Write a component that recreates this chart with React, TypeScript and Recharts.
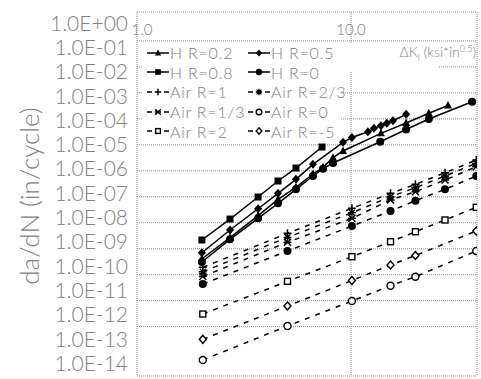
import React from 'react';
import { LineChart, Line, XAxis, YAxis, CartesianGrid, Legend } from 'recharts';

// Hydrogen (solid lines): ΔK values and da/dN
const hDkR02 = [2.01, 2.72, 3.68, 4.56, 5.53, 6.64, 7.4, 8.24, 9.18, 13.8, 18.1, 23.1, 28.4];
const hRateR02 = [4.02e-10, 2.66e-9, 1.87e-8, 8.0e-8, 2.32e-7, 7.53e-7, 1.36e-6, 3.2e-6, 5.79e-6, 2.78e-5, 6.93e-5, 1.64e-4, 3.27e-4];

const hDkR05 = [2.01, 2.72, 3.68, 4.56, 5.53, 6.64, 9.18, 10.1, 12.0, 12.8, 13.8, 14.7, 15.7, 18.1];
const hRateR05 = [7.02e-10, 5.26e-9, 3.47e-8, 1.36e-7, 4.71e-7, 1.78e-6, 1.25e-5, 1.92e-5, 3.2e-5, 4.33e-5, 5.46e-5, 6.75e-5, 8.5e-5, 1.5e-4];

const hDkR08 = [2.01, 2.72, 3.68, 4.56, 5.53, 7.32];
const hRateR08 = [2.17e-9, 1.39e-8, 9.8e-8, 4.05e-7, 1.28e-6, 8.25e-6];

const hDkR0 = [2.01, 2.72, 3.68, 4.56, 5.53, 6.64, 7.4, 8.24, 13.7, 18.1, 23.1, 36.8];
const hRateR0 = [3.08e-10, 2.3e-9, 1.48e-8, 5.61e-8, 1.94e-7, 6.31e-7, 1.21e-6, 2.0e-6, 1.32e-5, 3.9e-5, 9.88e-5, 4.58e-4];

// Air (dashed lines)
const airDk = [2.03, 5.05, 10.1, 15.3, 20.0, 27.5, 38.5];
const airDkShort = [2.03, 5.05, 10.1, 15.3, 20.0, 38.5];
const airRateR1 = [1.92e-10, 3.92e-9, 3.6e-8, 1.36e-7, 3.02e-7, 8.45e-7, 2.61e-6];
const airRateR23 = [1.3e-10, 2.75e-9, 2.44e-8, 1.01e-7, 2.24e-7, 6.31e-7, 1.95e-6];
const airRateR13 = [8.5e-11, 1.77e-9, 1.48e-8, 7.51e-8, 1.57e-7, 4.43e-7, 1.44e-6];
const airRateFilled = [4.38e-11, 8.17e-10, 7.49e-9, 2.83e-8, 7.06e-8, 1.94e-7, 6.31e-7];
const airRateR2 = [3.06e-12, 5.56e-11, 4.93e-10, 1.86e-9, 4.52e-9, 1.28e-8, 3.93e-8];
const airRateRm5 = [3.25e-13, 6.23e-12, 5.97e-11, 2.36e-10, 5.48e-10, 4.81e-9];
const airRateR0 = [5.19e-14, 1.06e-12, 9.7e-12, 3.77e-11, 8.37e-11, 8.17e-10];

const xTicks = [1, 10, 38.8];
const gridTicksY = [1.303, 1e-1, 1e-2, 1e-3, 1e-4, 1e-5, 1e-6, 1e-7, 1e-8, 1e-9, 1e-10, 1e-11, 1e-12, 1e-13, 1.259e-14];
const labelTicksY = [1, 1e-1, 1e-2, 1e-3, 1e-4, 1e-5, 1e-6, 1e-7, 1e-8, 1e-9, 1e-10, 1e-11, 1e-12, 1e-13, 1e-14];

const zip = (xs: number[], ys: number[]) => xs.map((x, i) => ({ x, y: ys[i] }));

type Kind = 'triangle' | 'diamond' | 'square' | 'circle' | 'plus' | 'asterisk' | 'xstar' | 'ocircle' | 'osquare' | 'odiamond';

const series: { id: string; name: string; data: { x: number; y: number }[]; kind: Kind; dashed: boolean; legend: boolean }[] = [
  { id: 'h02', name: 'H R=0.2', data: zip(hDkR02, hRateR02), kind: 'triangle', dashed: false, legend: true },
  { id: 'h05', name: 'H R=0.5', data: zip(hDkR05, hRateR05), kind: 'diamond', dashed: false, legend: true },
  { id: 'h08', name: 'H R=0.8', data: zip(hDkR08, hRateR08), kind: 'square', dashed: false, legend: true },
  { id: 'h0', name: 'H R=0', data: zip(hDkR0, hRateR0), kind: 'circle', dashed: false, legend: true },
  { id: 'a1', name: 'Air R=1', data: zip(airDk, airRateR1), kind: 'plus', dashed: true, legend: true },
  { id: 'a23', name: 'Air R=2/3', data: zip(airDk, airRateR23), kind: 'asterisk', dashed: true, legend: true },
  { id: 'a13', name: 'Air R=1/3', data: zip(airDk, airRateR13), kind: 'xstar', dashed: true, legend: true },
  { id: 'a0', name: 'Air R=0', data: zip(airDkShort, airRateR0), kind: 'ocircle', dashed: true, legend: true },
  { id: 'a2', name: 'Air R=2', data: zip(airDk, airRateR2), kind: 'osquare', dashed: true, legend: true },
  { id: 'am5', name: 'Air R=-5', data: zip(airDkShort, airRateRm5), kind: 'odiamond', dashed: true, legend: true },
  { id: 'afill', name: 'Air', data: zip(airDk, airRateFilled), kind: 'circle', dashed: true, legend: false },
];

const TEXT = '#808080';
const FONT = 'Lato, "DejaVu Sans", sans-serif';

function Marker({ kind, cx, cy, s = 1 }: { kind: Kind; cx: number; cy: number; s?: number }) {
  const k = '#000';
  switch (kind) {
    case 'triangle':
      return <polygon points={`${cx},${cy - 4.5 * s} ${cx - 4 * s},${cy + 3 * s} ${cx + 4 * s},${cy + 3 * s}`} fill={k} />;
    case 'diamond':
      return <polygon points={`${cx},${cy - 4.5 * s} ${cx + 4 * s},${cy} ${cx},${cy + 4.5 * s} ${cx - 4 * s},${cy}`} fill={k} />;
    case 'square':
      return <rect x={cx - 3.5 * s} y={cy - 3.5 * s} width={7 * s} height={7 * s} fill={k} />;
    case 'circle':
      return <circle cx={cx} cy={cy} r={4 * s} fill={k} />;
    case 'plus':
      return <path d={`M${cx - 4 * s},${cy}H${cx + 4 * s}M${cx},${cy - 4 * s}V${cy + 4 * s}`} stroke={k} strokeWidth={1.5} />;
    case 'asterisk':
      return (
        <path
          d={`M${cx - 4 * s},${cy}H${cx + 4 * s}M${cx},${cy - 4 * s}V${cy + 4 * s}M${cx - 3 * s},${cy - 3 * s}L${cx + 3 * s},${cy + 3 * s}M${cx - 3 * s},${cy + 3 * s}L${cx + 3 * s},${cy - 3 * s}`}
          stroke={k}
          strokeWidth={1.3}
        />
      );
    case 'xstar':
      return (
        <path
          d={`M${cx - 4 * s},${cy}H${cx + 4 * s}M${cx - 3.5 * s},${cy - 3.5 * s}L${cx + 3.5 * s},${cy + 3.5 * s}M${cx - 3.5 * s},${cy + 3.5 * s}L${cx + 3.5 * s},${cy - 3.5 * s}`}
          stroke={k}
          strokeWidth={1.5}
        />
      );
    case 'ocircle':
      return <circle cx={cx} cy={cy} r={3.5 * s} fill="#fff" stroke={k} strokeWidth={1.4} />;
    case 'osquare':
      return <rect x={cx - 3 * s} y={cy - 3 * s} width={6 * s} height={6 * s} fill="#fff" stroke={k} strokeWidth={1.4} />;
    case 'odiamond':
      return <polygon points={`${cx},${cy - 4 * s} ${cx + 3.5 * s},${cy} ${cx},${cy + 4 * s} ${cx - 3.5 * s},${cy}`} fill="#fff" stroke={k} strokeWidth={1.4} />;
  }
  return null;
}

const fmtE = (v: number) => {
  const e = Math.round(Math.log10(v));
  return `1.0E${e < 0 ? '-' : '+'}${String(Math.abs(e)).padStart(2, '0')}`;
};

const YLabelTick = (props: any) => {
  const { x, y, payload } = props;
  return (
    <text x={x} y={y} dy="0.36em" textAnchor="end" fontSize={21} fontWeight={300} fill={TEXT} fontFamily={FONT}>
      {fmtE(payload.value)}
    </text>
  );
};

const XTick = (props: any) => {
  const { x, y, payload } = props;
  if (payload.value > 10.5) return <g />;
  return (
    <text x={x + (payload.value === 1 ? 5 : 0)} y={y + 18} dy="0.36em" textAnchor="middle" fontSize={15} fontWeight={300} fill={TEXT} fontFamily={FONT}>
      {payload.value.toFixed(1)}
    </text>
  );
};

function LegendBox() {
  const items = series.filter((s) => s.legend);
  return (
    <div
      style={{
        background: '#fff',
        width: 198,
        height: 97,
        display: 'grid',
        gridTemplateColumns: '101px 97px',
        gridAutoRows: '19.6px',
        fontFamily: FONT,
        fontSize: 16,
        fontWeight: 300,
        letterSpacing: 0.8,
        color: TEXT,
      }}
    >
      {items.map((s) => (
        <div key={s.id} style={{ display: 'flex', alignItems: 'center', paddingLeft: 5, whiteSpace: 'nowrap', lineHeight: '19px' }}>
          <svg width={22} height={14} style={{ marginRight: 1, flex: 'none' }}>
            {s.dashed ? (
              <path d="M0,7H5M17,7H22" stroke="#000" strokeWidth={1.5} />
            ) : (
              <path d="M0,7H22" stroke="#000" strokeWidth={1.5} />
            )}
            <Marker kind={s.kind} cx={11} cy={7} s={0.8} />
          </svg>
          <span>{s.name}</span>
        </div>
      ))}
    </div>
  );
}

export default function App() {
  return (
    <div style={{ position: 'absolute', left: 0, top: 0, width: 481, height: 379, background: '#fff' }}>
      <LineChart width={481} height={379} margin={{ top: 0, right: 4, bottom: 3, left: 0 }}>
        <CartesianGrid yAxisId="d" stroke="#8c8c8c" strokeDasharray="1 1" />
        <XAxis
          dataKey="x"
          type="number"
          scale="log"
          orientation="top"
          domain={[1, 38.8]}
          allowDataOverflow
          ticks={xTicks}
          height={12}
          axisLine={false}
          tickLine={false}
          tickSize={0}
          tickMargin={0}
          tick={<XTick />}
          label={{
            content: (p: any) => {
              const vb = p.viewBox || { x: 137, y: 0, width: 340, height: 12 };
              const right = vb.x + vb.width - 1;
              const top = vb.y + vb.height;
              return (
                <g>
                  <rect x={right - 139} y={top + 32} width={102} height={28} fill="#fff" />
                  <text x={right} y={top + 40} dy="0.36em" textAnchor="end" fontSize={14} fontWeight={300} fill={TEXT} fontFamily={FONT}>
                    ΔK
                    <tspan fontSize={9} dy={4}>I</tspan>
                    <tspan dy={-4}> (ksi*in</tspan>
                    <tspan fontSize={9} dy={-5}>0.5</tspan>
                    <tspan dy={5}>)</tspan>
                  </text>
                </g>
              );
            },
          }}
        />
        <YAxis yAxisId="d" hide width={0} scale="log" type="number" domain={[1.259e-14, 1.303]} allowDataOverflow ticks={gridTicksY} />
        <YAxis
          yAxisId="lab"
          orientation="left"
          width={137}
          scale="log"
          type="number"
          domain={[3.06e-15, 2.83]}
          allowDataOverflow
          ticks={labelTicksY}
          axisLine={false}
          tickLine={false}
          tickSize={0}
          tickMargin={9}
          tick={<YLabelTick />}
          label={{
            content: (p: any) => {
              const vb = p.viewBox || { x: 0, y: 12, height: 364 };
              return (
                <text
                  transform={`translate(${vb.x + 29}, ${vb.y + vb.height / 2 + 2}) rotate(-90)`}
                  textAnchor="middle"
                  dominantBaseline="central"
                  fontSize={26}
                  fontWeight={300}
                  fill={TEXT}
                  fontFamily={FONT}
                >
                  da/dN (in/cycle)
                </text>
              );
            },
          }}
        />
        <Legend layout="horizontal" verticalAlign="middle" align="center" wrapperStyle={{ left: 142, top: 43, width: 198, height: 97 }} content={() => <LegendBox />} />
        {series.map((s) => (
          <Line
            key={s.id}
            yAxisId="d"
            data={s.data}
            dataKey="y"
            name={s.name}
            type="linear"
            stroke="#000"
            strokeWidth={1.5}
            strokeDasharray={s.dashed ? '5 6' : undefined}
            dot={(p: any) => (
              <g key={`${s.id}-${p.index}`}>
                <Marker kind={s.kind} cx={p.cx} cy={p.cy} />
              </g>
            )}
            activeDot={false}
            isAnimationActive={false}
          />
        ))}
      </LineChart>
    </div>
  );
}
